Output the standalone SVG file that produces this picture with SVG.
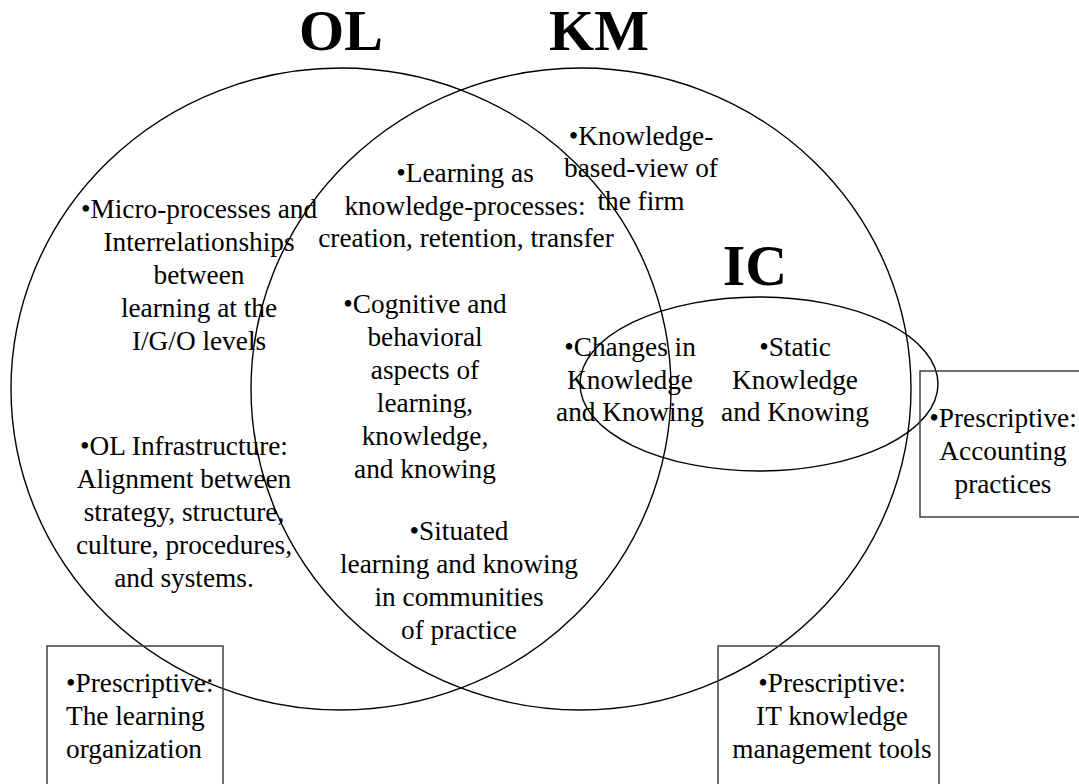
<svg xmlns="http://www.w3.org/2000/svg" width="1079" height="784" viewBox="0 0 1079 784">
  <style>
    .ring { fill: none; stroke: #000; stroke-width: 1.4; }
    .box { fill: none; stroke: #404040; stroke-width: 1.5; }
    .title { font-family: "Liberation Serif", "Times New Roman", serif; font-weight: bold; font-size: 58px; fill: #000; text-anchor: middle; }
    .txt { font-family: "Liberation Serif", "Times New Roman", serif; font-size: 27.3px; fill: #000; text-anchor: middle; }
    .left { text-anchor: start; }
  </style>
  <rect width="1079" height="784" fill="#fff"/>

  <!-- Organizational Learning -->
  <g id="ol">
    <ellipse class="ring" cx="341" cy="389" rx="330" ry="321"/>
    <text class="title" x="341" y="50">OL</text>
    <text class="txt" x="199" y="218">•Micro-processes and</text>
    <text class="txt" x="199" y="251">Interrelationships</text>
    <text class="txt" x="199" y="284">between</text>
    <text class="txt" x="199" y="317">learning at the</text>
    <text class="txt" x="199" y="350">I/G/O levels</text>
    <text class="txt" x="184" y="455">•OL Infrastructure:</text>
    <text class="txt" x="184" y="488">Alignment between</text>
    <text class="txt" x="184" y="521">strategy, structure,</text>
    <text class="txt" x="184" y="554">culture, procedures,</text>
    <text class="txt" x="184" y="587">and systems.</text>
  </g>

  <!-- Knowledge Management -->
  <g id="km">
    <ellipse class="ring" cx="581" cy="389" rx="330" ry="321"/>
    <text class="title" x="599" y="50">KM</text>
    <text class="txt" x="641" y="145">•Knowledge-</text>
    <text class="txt" x="641" y="177">based-view of</text>
    <text class="txt" x="641" y="210">the firm</text>
  </g>

  <!-- Shared OL / KM region -->
  <g id="ol-km">
    <text class="txt" x="465" y="182">•Learning as</text>
    <text class="txt" x="465" y="215">knowledge-processes:</text>
    <text class="txt" x="466" y="247">creation, retention, transfer</text>
    <text class="txt" x="425" y="313">•Cognitive and</text>
    <text class="txt" x="425" y="346">behavioral</text>
    <text class="txt" x="425" y="379">aspects of</text>
    <text class="txt" x="425" y="412">learning,</text>
    <text class="txt" x="425" y="445">knowledge,</text>
    <text class="txt" x="425" y="478">and knowing</text>
    <text class="txt" x="459" y="540">•Situated</text>
    <text class="txt" x="459" y="573">learning and knowing</text>
    <text class="txt" x="459" y="606">in communities</text>
    <text class="txt" x="459" y="639">of practice</text>
  </g>

  <!-- Intellectual Capital -->
  <g id="ic">
    <ellipse class="ring" cx="759" cy="384" rx="179" ry="87"/>
    <text class="title" x="755" y="285">IC</text>
    <text class="txt" x="630" y="356">•Changes in</text>
    <text class="txt" x="630" y="389">Knowledge</text>
    <text class="txt" x="630" y="421">and Knowing</text>
    <text class="txt" x="795" y="356">•Static</text>
    <text class="txt" x="795" y="389">Knowledge</text>
    <text class="txt" x="795" y="421">and Knowing</text>
  </g>

  <!-- Prescriptive boxes -->
  <g id="box-ol">
    <rect class="box" x="47" y="646" width="176" height="150"/>
    <text class="txt left" x="66" y="692">•Prescriptive:</text>
    <text class="txt left" x="66" y="725">The learning</text>
    <text class="txt left" x="66" y="758">organization</text>
  </g>
  <g id="box-km">
    <rect class="box" x="718" y="646" width="221" height="150"/>
    <text class="txt" x="832" y="692">•Prescriptive:</text>
    <text class="txt" x="832" y="725">IT knowledge</text>
    <text class="txt" x="832" y="758">management tools</text>
  </g>
  <g id="box-ic">
    <rect class="box" x="920" y="371" width="170" height="146"/>
    <text class="txt" x="1003" y="427">•Prescriptive:</text>
    <text class="txt" x="1003" y="460">Accounting</text>
    <text class="txt" x="1003" y="493">practices</text>
  </g>

  <g id="connectors"/>
</svg>
